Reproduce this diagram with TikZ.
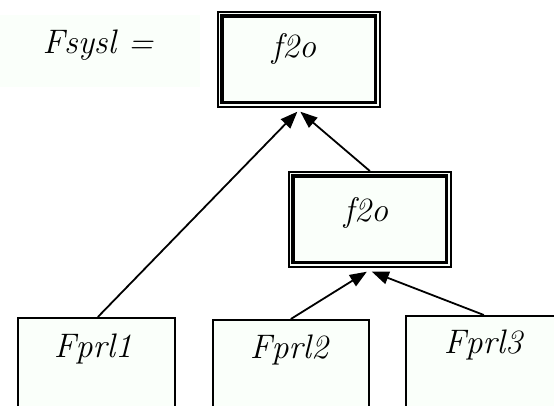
\documentclass[tikz,border=0pt]{standalone}
\usepackage{fontspec}
\usetikzlibrary{arrows.meta}
\definecolor{mint}{RGB}{250,255,250}
\begin{document}
\begin{tikzpicture}[x=1pt,y=-1pt,
  box/.style={draw, fill=mint, line width=1.7pt, rectangle, inner sep=0pt, anchor=north west},
  dblbox/.style={box, minimum width=162pt, minimum height=95pt},
  lbl/.style={font=\fontsize{34}{40}\selectfont\itshape, inner sep=0pt, anchor=base},
  arr/.style={-{Triangle[length=17pt,width=13pt]}, line width=1.8pt},
  innerline/.style={line width=3.2pt}]
\useasboundingbox (0,0) rectangle (554,405);
% label background
\node[fill=mint, minimum width=200pt, minimum height=72pt, anchor=north west, inner sep=0pt] (lb) at (0,15) {};
\node[lbl] (fs) at (98,53) {Fsysl =};
% top box
\node[dblbox] (t) at (217,11) {};
\draw[innerline] ([shift={(5,5)}]t.north west) rectangle ([shift={(-5,-5)}]t.south east);
\node[lbl] (tt) at (294,57) {f2o};
% middle box
\node[dblbox] (m) at (288,171) {};
\draw[innerline] ([shift={(5,5)}]m.north west) rectangle ([shift={(-5,-5)}]m.south east);
\node[lbl] (mt) at (366,221) {f2o};
% bottom boxes
\node[box, minimum width=157pt, minimum height=100pt] (b1) at (17,317) {};
\node[lbl] (b1t) at (93,357) {Fprl1};
\node[box, minimum width=156pt, minimum height=100pt] (b2) at (212,319) {};
\node[lbl] (b2t) at (289,358) {Fprl2};
\node[box, minimum width=156pt, minimum height=100pt] (b3) at (405,315) {};
\node[lbl] (b3t) at (483,353) {Fprl3};
% connectors
\draw[arr] ([xshift=1.5pt]b1.north) -- ([shift={(-1.5,4)}]t.south);
\draw[arr] (m.north) -- ([shift={(1.5,4)}]t.south);
\draw[arr] (b2.north) -- ([shift={(-3,4)}]m.south);
\draw[arr] (b3.north) -- ([shift={(2,4)}]m.south);
\end{tikzpicture}
\end{document}
